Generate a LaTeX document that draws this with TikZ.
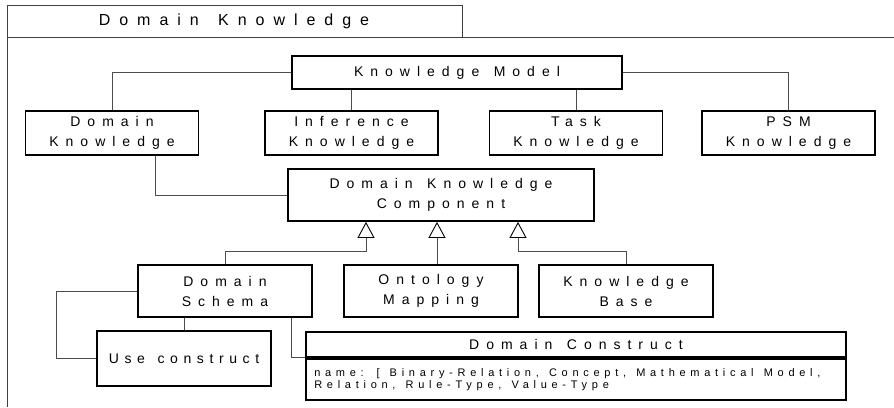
\documentclass[tikz,border=0pt]{standalone}
\usepackage{fontspec}
\setmainfont{Liberation Sans}[LetterSpace=50, WordSpace=1.33]
\newfontfamily\titlefont{Liberation Sans}[LetterSpace=56, WordSpace=1.45]
\newfontfamily\narrowfont{Liberation Sans}[LetterSpace=40, WordSpace=1.33]
\newfontfamily\detailfont{Liberation Sans}[LetterSpace=43, WordSpace=1.3]
\usetikzlibrary{arrows.meta}

\tikzset{
  frameline/.style={draw=black!75, line width=0.9pt},
  wire/.style={draw=black!70, line width=0.9pt},
  gen/.style={wire, -{Triangle[open, length=16pt, width=17pt, line width=0.9pt, color=black]}},
  box/.style={draw, line width=1.8pt, inner sep=0pt, align=center,
              font=\fontsize{14}{20}\selectfont},
  wide/.style={box, minimum width=173pt, minimum height=44pt},
  mid/.style={box, line width=1.3pt, minimum width=174pt, minimum height=52pt},
}

\begin{document}
\begin{tikzpicture}[x=1pt, y=-1pt]
\useasboundingbox (0,0) rectangle (894,407);

% package frame with its tab
\draw[frameline] (7,407) -- (7,5) -- (462,5) -- (462,37);
\draw[frameline] (7,37) -- (894,37);
\node[font=\titlefont\fontsize{16}{20}\selectfont] (title) at (234,21) {Domain Knowledge};

% top level model and its parts
\node[box, minimum width=330pt, minimum height=33pt] (km) at (457,72.5) {Knowledge Model};
\node[wide] (dk)  at (112,133)   {Domain\\Knowledge};
\node[wide] (inf) at (351.5,133) {Inference\\Knowledge};
\node[wide] (tk)  at (576,133)   {Task\\Knowledge};
\node[wide] (psm) at (788.5,133) {PSM\\Knowledge};

\draw[wire] (km.west) -| (dk.north);
\draw[wire] (inf.north) -- (inf.north |- km.south);
\draw[wire] (tk.north) -- (tk.north |- km.south);
\draw[wire] (km.east) -| (psm.north);

% domain knowledge component and its specialisations
\node[box, minimum width=306pt, minimum height=52pt] (dkc) at (441,195) {Domain Knowledge\\Component};
\draw[wire] ([xshift=43pt]dk.south) |- (dkc.west);

\coordinate (g1) at ([xshift=-75pt]dkc.south);
\coordinate (g2) at ([xshift=-4pt]dkc.south);
\coordinate (g3) at ([xshift=77pt]dkc.south);

\node[mid] (sch) at (225,291) {Domain\\Schema};
\node[mid] (ont) at (431,291) {Ontology\\Mapping};
\node[mid] (kb)  at (626,291) {Knowledge\\Base};

\draw[gen] (sch.north) -- ++(0,-13) -| (g1);
\draw[gen] (g2 |- ont.north) -- (g2);
\draw[gen] (kb.north) -- ++(0,-13) -| (g3);

% schema contents
\node[box, minimum width=174pt, minimum height=55pt,
      font=\narrowfont\fontsize{14}{20}\selectfont] (uc) at (184,358.5) {Use construct};
\node[box, minimum width=540pt, minimum height=25pt] (dch) at (576,344.5) {Domain Construct};
\node[draw, line width=1.8pt, minimum width=540pt, minimum height=41pt, inner sep=0pt,
      anchor=north] (dcb) at (dch.south) {};
\node[anchor=west, align=left, inner sep=0pt,
      font=\detailfont\fontsize{11}{12}\selectfont] (dct) at ([xshift=9pt]dcb.west)
  {name: [ Binary-Relation, Concept, Mathematical Model,\\Relation, Rule-Type, Value-Type};

\draw[wire] (uc.north) -- (uc.north |- sch.south);
\draw[wire] (sch.west) -- ++(-81,0) |- (uc.west);
\draw[wire] ([xshift=66pt]sch.south) |- (dch.south west);

\end{tikzpicture}
\end{document}
